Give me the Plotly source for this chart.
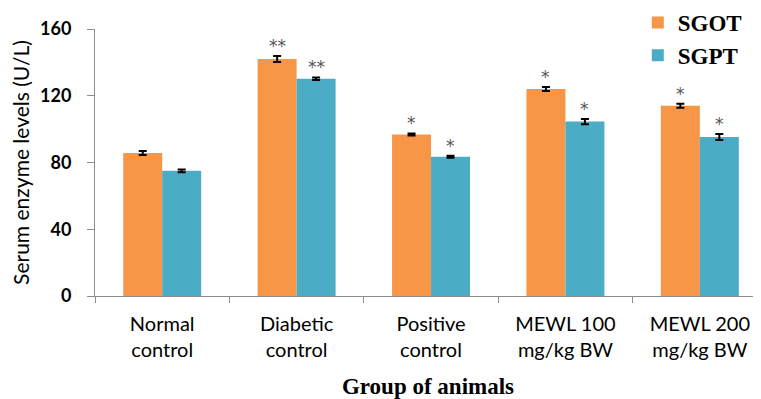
import plotly.graph_objects as go

categories = ["Normal<br>control", "Diabetic<br>control", "Positive<br>control",
              "MEWL 100<br>mg/kg BW", "MEWL 200<br>mg/kg BW"]
sgot = [85.7, 142.0, 96.8, 124.0, 114.0]
sgot_err = [1.2, 1.8, 0.6, 1.2, 1.2]
sgpt = [75.0, 130.2, 83.5, 104.5, 95.3]
sgpt_err = [0.8, 0.8, 0.6, 1.6, 1.8]
sgot_sig = ["", "**", "*", "*", "*"]
sgpt_sig = ["", "**", "*", "*", "*"]

ORANGE = "#F79646"
BLUE = "#4BACC6"

fig = go.Figure()
fig.add_trace(go.Bar(
    x=categories, y=sgot, name="SGOT", marker=dict(color=ORANGE, line=dict(width=0)),
    error_y=dict(type="data", array=sgot_err, color="black", thickness=2, width=4),
    legendgroup="a", offsetgroup="a"))
fig.add_trace(go.Bar(
    x=categories, y=sgpt, name="SGPT", marker=dict(color=BLUE, line=dict(width=0)),
    error_y=dict(type="data", array=sgpt_err, color="black", thickness=2, width=4),
    legendgroup="b", offsetgroup="b"))

# significance marks above error bars
for i, c in enumerate(categories):
    for vals, errs, sig, xs in ((sgot, sgot_err, sgot_sig, -0.5), (sgpt, sgpt_err, sgpt_sig, 0.5)):
        if sig[i]:
            fig.add_annotation(x=c, y=vals[i] + errs[i], text=sig[i], showarrow=False,
                               xref="x", yref="y", yanchor="bottom", yshift=-2,
                               xshift=xs * 39,
                               font=dict(family="DejaVu Sans", size=17, color="#555555"))

# the page body adds an 8px offset, so the figure is sized to fill the window
fig.update_layout(
    width=753, height=391,
    margin=dict(l=87, r=0, t=21, b=103, autoexpand=False),
    plot_bgcolor="white", paper_bgcolor="white",
    barmode="group", bargap=0.42, bargroupgap=0,
    showlegend=True,
    legend=dict(x=0.815, y=1.105, xanchor="left", yanchor="top",
                font=dict(family="Liberation Serif", size=23, color="black", weight="bold"),
                traceorder="grouped", tracegroupgap=0, itemwidth=30,
                bgcolor="rgba(0,0,0,0)"),
    xaxis=dict(range=[-0.5, 4.455], showline=True, linecolor="#8c8c8c", linewidth=1,
               ticks="outside", tickson="boundaries", ticklen=6, tickcolor="#8c8c8c",
               ticklabelstandoff=10,
               tickfont=dict(family="Lato", size=20, color="black"),
               title=dict(text="<b>Group of animals</b>", standoff=18,
                          font=dict(family="Liberation Serif", size=23, color="black"))),
    yaxis=dict(range=[0, 160], tickvals=[0, 40, 80, 120, 160], showgrid=False,
               zeroline=False, showline=True, linecolor="#8c8c8c", linewidth=1,
               ticks="outside", ticklen=7, tickcolor="#8c8c8c", ticklabelstandoff=12,
               tickfont=dict(family="Lato", size=18, color="black", weight="bold"),
               title=dict(text="Serum enzyme levels (U/L)", standoff=6,
                          font=dict(family="Lato", size=21, color="black"))),
)

fig.write_html("out.html")
